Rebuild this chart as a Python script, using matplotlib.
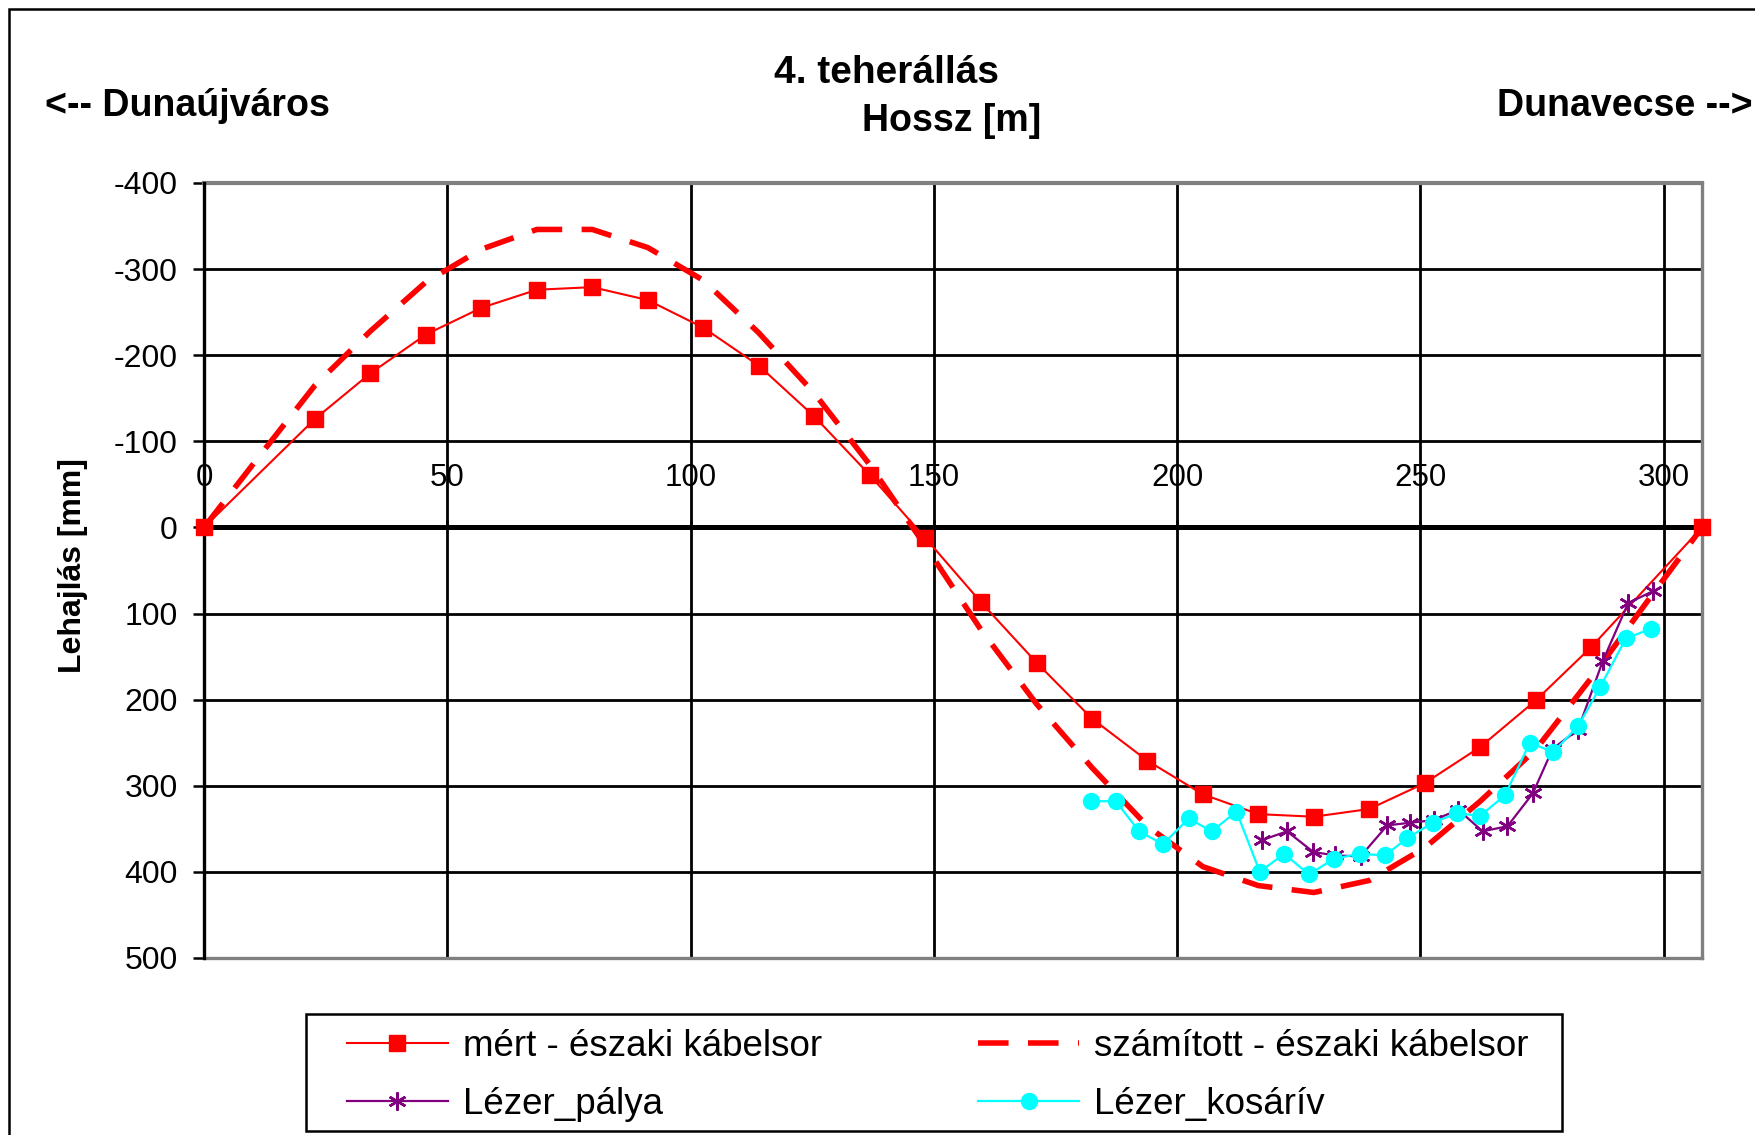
import matplotlib
matplotlib.use("Agg")
import matplotlib.pyplot as plt
from matplotlib.patches import Rectangle

plt.rcParams['font.family'] = ['Liberation Sans', 'DejaVu Sans']
plt.rcParams['axes.unicode_minus'] = False

# mért - északi kábelsor
mert_x = [0, 22.8, 34.2, 45.6, 57.0, 68.4, 79.8, 91.2, 102.6, 114.0, 125.4, 136.8, 148.2,
          159.7, 171.1, 182.5, 193.9, 205.3, 216.7, 228.1, 239.5, 250.9, 262.3, 273.7, 285.1, 307.9]
mert_y = [0, -126, -179, -224, -255, -276, -279, -264, -232, -188, -129, -61, 12,
          87, 157, 222, 271, 310, 333, 336, 327, 297, 255, 201, 139, 0]

# számított - északi kábelsor
szam_x = [0, 11.4, 22.8, 34.2, 45.6, 57.0, 68.4, 79.8, 91.2, 102.6, 114.0, 125.4, 136.8, 148.2,
          159.7, 171.1, 182.5, 193.9, 205.3, 216.7, 228.1, 239.5, 250.9, 262.3, 273.7, 285.1, 296.5, 307.9]
szam_y = [0, -83, -165, -228, -285, -323, -346, -346, -325, -287, -226, -156, -73, 21,
          119, 205, 279, 347, 394, 416, 424, 410, 372, 318, 258, 175, 87, 0]

# Lézer_pálya
palya_x = [217.5, 222.6, 228.0, 232.5, 237.7, 243.2, 247.9, 252.7, 257.8, 262.8, 267.9,
           273.1, 277.2, 282.4, 287.5, 292.7, 297.8]
palya_y = [363, 353, 377, 381, 382, 346, 343, 340, 328, 353, 347, 309, 257, 235, 155, 88, 74]

# Lézer_kosárív
kosariv_x = [182.3, 187.4, 192.2, 197.1, 202.4, 207.1, 212.2, 217.0, 222.0, 227.1, 232.2, 237.5,
             242.7, 247.3, 252.5, 257.6, 262.3, 267.4, 272.5, 277.3, 282.4, 287.0, 292.2, 297.3]
kosariv_y = [318, 318, 353, 368, 338, 353, 330, 400, 379, 403, 385, 379, 381, 361, 343, 332,
             335, 311, 250, 261, 231, 185, 129, 118]

x_ticks = [0, 50, 100, 150, 200, 250, 300]
y_ticks = [-400, -300, -200, -100, 0, 100, 200, 300, 400, 500]

fig = plt.figure(figsize=(17.56, 11.35), dpi=100)
ax = fig.add_axes([0.1162, 0.156, 0.8531, 0.6828])

# outer chart border (cut at right and bottom)
fig.patches.append(Rectangle((9, -20), 1800, 1135 - 9 + 20, transform=None,
                             fill=False, edgecolor='black', lw=1.8))

l1, = ax.plot(mert_x, mert_y, color='red', lw=1.5, marker='s', ms=11.5, mec='red',
              label='mért - északi kábelsor', zorder=5, clip_on=False)
l2, = ax.plot(szam_x, szam_y, color='red', lw=4, ls=(0, (5.5, 3.5)),
              label='számított - északi kábelsor', zorder=6, clip_on=False)
l3, = ax.plot(palya_x, palya_y, color='#800080', lw=1.6, marker=(6, 2, 0), ms=13, mew=1.8,
              label='Lézer_pálya', zorder=7)
l4, = ax.plot(kosariv_x, kosariv_y, color='cyan', lw=1.6, marker='o', ms=11.5,
              label='Lézer_kosárív', zorder=8)

ax.set_xlim(0, 307.9)
ax.set_ylim(500, -400)
ax.set_xticks(x_ticks)
ax.set_yticks(y_ticks)

ax.grid(True, color='black', lw=2.0)
ygl = ax.yaxis.get_gridlines()
ygl[0].set_visible(False)
ygl[-1].set_visible(False)
ygl[4].set_visible(False)
ax.xaxis.get_gridlines()[0].set_visible(False)
ax.set_axisbelow(True)

# x axis crosses at 0, labels above it
ax.spines['top'].set_position(('data', 0))
ax.spines['top'].set_linewidth(3.6)
ax.spines['top'].set_zorder(4)
ax.xaxis.tick_top()
ax.tick_params(axis='x', direction='out', length=5, width=1.8, pad=20, labelsize=22.5)
ax.spines['left'].set_linewidth(2.4)
ax.spines['left'].set_zorder(4)
ax.spines['bottom'].set_color('#808080')
ax.spines['bottom'].set_linewidth(2.4)
ax.spines['right'].set_color('#808080')
ax.spines['right'].set_linewidth(2.4)
ax.axhline(-400, color='#808080', lw=3, zorder=3, clip_on=False)
ax.tick_params(axis='y', direction='out', length=8, width=1.8, pad=11, labelsize=23)

fig.text(0.5049, 0.9355, '4. teherállás', fontsize=28, fontweight='bold', ha='center', va='center')
fig.text(0.5421, 0.8932, 'Hossz [m]', fontsize=27, fontweight='bold', ha='center', va='center')
fig.text(0.0255, 0.9062, '<-- Dunaújváros', fontsize=27, fontweight='bold', ha='left', va='center')
fig.text(0.998, 0.9062, 'Dunavecse -->', fontsize=27, fontweight='bold', ha='right', va='center')
fig.text(0.0415, 0.5017, 'Lehajlás [mm]', fontsize=23, fontweight='bold', rotation=90,
         ha='center', va='center')

# legend frame drawn separately, entries placed row by row
fig.patches.append(Rectangle((306, 1135 - 1131), 1562 - 306, 1131 - 1014, transform=None,
                             fill=False, edgecolor='black', lw=1.8))
fig.legend([l1, l3, l2, l4], [l1.get_label(), l3.get_label(), l2.get_label(), l4.get_label()],
           loc='upper left', bbox_to_anchor=(347 / 1756, 1 - 1029 / 1135), ncol=2,
           fontsize=26.5, numpoints=1, handlelength=2.74, handletextpad=0.4,
           columnspacing=4.25, borderpad=0, borderaxespad=0, labelspacing=0.62, frameon=False)

fig.savefig('out.png', dpi=100)
